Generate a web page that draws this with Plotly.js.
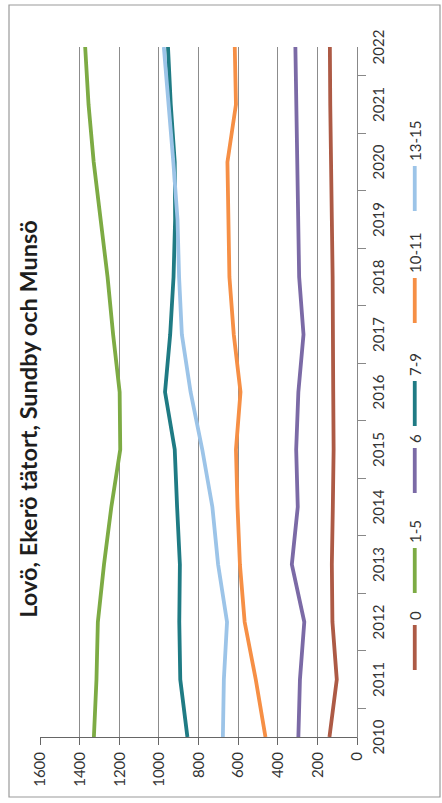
<!DOCTYPE html>
<html>
<head>
<meta charset="utf-8">
<script src="https://cdn.plot.ly/plotly-3.0.1.min.js"></script>
<style>
  html, body { margin: 0; padding: 0; background: #ffffff; overflow: hidden; width: 442px; height: 803px; }
  #chart {
    position: absolute; left: 0; top: 0;
    width: 803px; height: 442px;
    transform-origin: 0 0;
    transform: translate(0px, 803px) rotate(-90deg);
  }
</style>
</head>
<body>
<div id="chart"></div>
<script>
// ---- data ----
const years = ['2010','2011','2012','2013','2014','2015','2016','2017','2018','2019','2020','2021','2022'];
const seriesNames = ['0', '1-5', '6', '7-9', '10-11', '13-15'];
const age0    = [139, 102, 124, 127, 122, 118, 120, 120, 123, 127, 133, 135, 137];
const age1_5  = [1328, 1315, 1308, 1277, 1240, 1195, 1198, 1231, 1259, 1295, 1329, 1355, 1372];
const age6    = [296, 288, 266, 329, 299, 307, 296, 270, 292, 296, 302, 306, 311];
const age7_9  = [856, 892, 897, 894, 908, 920, 969, 943, 926, 918, 920, 940, 954];
const age10_11= [462, 511, 567, 591, 603, 611, 588, 622, 644, 651, 654, 611, 617];
const age13_15= [677, 672, 656, 701, 730, 781, 840, 884, 898, 906, 927, 949, 975];
const valueTicks = [0, 200, 400, 600, 800, 1000, 1200, 1400, 1600];
const titleText = 'Lovö, Ekerö tätort, Sundby och Munsö';

const seriesValues = [age0, age1_5, age6, age7_9, age10_11, age13_15];
const seriesColors = ['#ad5a45', '#7dab44', '#7b6aa6', '#1f7b84', '#f68f45', '#9cc4e8'];
// one legend box per series so each entry sits where it does in the reference
const legendIds = ['legend', 'legend2', 'legend3', 'legend4', 'legend5', 'legend6'];
const legendLeft = [128, 205, 305, 372, 475, 587];

const traces = seriesNames.map((n, i) => ({
  type: 'scatter', mode: 'lines', name: n,
  x: years, y: seriesValues[i],
  legend: legendIds[i],
  line: { color: seriesColors[i], width: 3.8, shape: 'linear' }
}));

const FONT = 'Lato, "Open Sans", "Liberation Sans", sans-serif';

const layout = {
  width: 803, height: 442,
  margin: { l: 66, r: 47, t: 40, b: 85, pad: 0 },
  paper_bgcolor: '#ffffff', plot_bgcolor: '#ffffff',
  font: { family: FONT, size: 15, color: '#333333' },
  title: {
    text: titleText,
    font: { family: FONT, size: 23.5, color: '#1e1e1e', weight: 'bold' },
    xref: 'paper', x: (384 - 66)/690, xanchor: 'center',
    yref: 'container', y: 1 - 29/442, yanchor: 'middle'
  },
  xaxis: {
    type: 'category',
    tickson: 'boundaries',
    ticks: 'outside', ticklen: 8, tickcolor: '#888888', tickwidth: 1,
    ticklabelstandoff: 8,
    showline: true, linecolor: '#888888', linewidth: 1,
    showgrid: false, zeroline: false,
    tickfont: { family: FONT, size: 15, color: '#333333' },
    fixedrange: true
  },
  yaxis: {
    range: [0, 1600],
    tickvals: valueTicks,
    ticks: 'outside', ticklen: 7, tickcolor: '#666666', tickwidth: 1,
    ticklabelstandoff: 4,
    showline: true, linecolor: '#666666', linewidth: 1,
    showgrid: true, gridcolor: '#8c8c8c', gridwidth: 1,
    zeroline: false,
    tickfont: { family: FONT, size: 15, color: '#333333' },
    fixedrange: true
  },
  showlegend: true,
  shapes: [
    { type: 'rect', xref: 'paper', yref: 'paper',
      x0: (6 - 66)/690, x1: (798 - 66)/690,
      y0: (357 - 440)/317, y1: (357 - 9)/317,
      line: { color: '#9a9a9a', width: 1.2 }, fillcolor: 'rgba(0,0,0,0)', layer: 'below' }
  ]
};

legendIds.forEach((id, i) => {
  layout[id] = {
    orientation: 'h',
    xref: 'container', x: legendLeft[i] / 803, xanchor: 'left',
    yref: 'container', y: 1 - 415/442, yanchor: 'middle',
    itemwidth: 45,
    font: { family: FONT, size: 15, color: '#333333' },
    bgcolor: 'rgba(0,0,0,0)', borderwidth: 0
  };
});

Plotly.newPlot('chart', traces, layout, { displayModeBar: false, staticPlot: true });
</script>
</body>
</html>
